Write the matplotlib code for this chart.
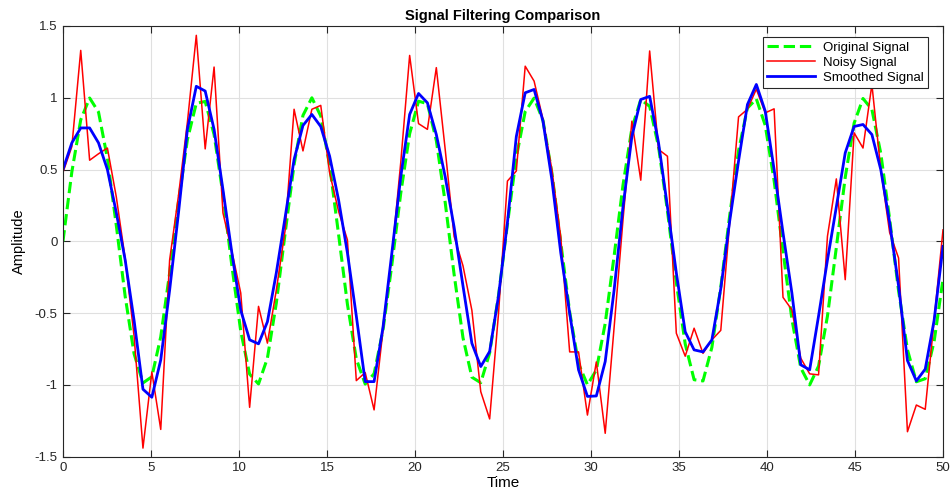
import numpy as np
import matplotlib
matplotlib.use("Agg")
import matplotlib.pyplot as plt

plt.rcParams['font.family'] = ['Liberation Sans', 'DejaVu Sans']

# time samples (100 points from 0 to 50)
t = np.linspace(0, 50, 100)

original = [0.0, 0.4839, 0.8469, 0.9985, 0.9007, 0.5780, 0.1111, -0.3837, -0.7826, -0.9861,
            -0.9434, -0.6651, -0.2208, 0.2788, 0.7086, 0.9616, 0.9744, 0.7439, 0.3277, -0.1704,
            -0.6259, -0.9251, -0.9933, -0.8135, -0.4306, 0.0599, 0.5353, 0.8772, 1.0000, 0.8731,
            0.5282, 0.0514, -0.4382, -0.8185, -0.9943, -0.9219, -0.6193, -0.1620, 0.3357, 0.7496,
            0.9762, 0.9592, 0.7026, 0.2706, -0.2289, -0.6714, -0.9462, -0.9847, -0.7774, -0.3758,
            0.1195, 0.5850, 0.9044, 0.9979, 0.8424, 0.4764, -0.0085, -0.4913, -0.8514, -0.9989,
            -0.8970, -0.5711, -0.1026, 0.3915, 0.7878, 0.9875, 0.9406, 0.6587, 0.2125, -0.2869,
            -0.7146, -0.9638, -0.9724, -0.7382, -0.3197, 0.1787, 0.6325, 0.9284, 0.9923, 0.8086,
            0.4230, -0.0684, -0.5425, -0.8813, -0.9999, -0.8689, -0.5210, -0.0429, 0.4458, 0.8233,
            0.9951, 0.9185, 0.6126, 0.1536, -0.3436, -0.7552, -0.9781, -0.9567, -0.6966, -0.2624]

noisy = [0.48, 0.66, 1.33, 0.565, 0.61, 0.65, 0.31, -0.12, -0.66, -1.44,
         -0.91, -1.31, -0.13, 0.32, 0.83, 1.435, 0.644, 1.214, 0.198, -0.07,
         -0.36, -1.156, -0.453, -0.709, -0.34, 0.08, 0.92, 0.63, 0.92, 0.947,
         0.477, 0.21, 0.01, -0.97, -0.914, -1.174, -0.62, -0.1, 0.55, 1.295,
         0.82, 0.78, 1.21, 0.64, 0.035, -0.17, -0.48, -1.047, -1.237, -0.5,
         0.42, 0.49, 1.22, 1.116, 0.85, 0.5, 0.03, -0.77, -0.77, -1.21,
         -0.84, -1.337, -0.6, 0.15, 0.837, 0.426, 1.326, 0.64, 0.593, -0.64,
         -0.80, -0.605, -0.78, -0.686, -0.62, 0.13, 0.867, 0.92, 1.06, 0.895,
         0.923, -0.39, -0.477, -0.814, -0.923, -0.93, 0.035, 0.435, -0.267, 0.756,
         0.65, 1.093, 0.5, 0.06, -0.116, -1.326, -1.14, -1.17, -0.55, 0.08]

smoothed = [0.5, 0.686, 0.79, 0.79, 0.686, 0.5, 0.2, -0.13, -0.55, -1.03,
            -1.086, -0.826, -0.34, 0.2, 0.78, 1.08, 1.047, 0.78, 0.36, -0.08,
            -0.48, -0.686, -0.714, -0.56, -0.22, 0.17, 0.57, 0.807, 0.884, 0.80,
            0.593, 0.29, -0.08, -0.52, -0.977, -0.977, -0.6, -0.08, 0.45, 0.884,
            1.03, 0.965, 0.744, 0.45, 0.10, -0.31, -0.71, -0.872, -0.767, -0.38,
            0.13, 0.73, 1.035, 1.058, 0.837, 0.43, -0.08, -0.5, -0.895, -1.08,
            -1.077, -0.837, -0.34, 0.24, 0.73, 0.988, 1.01, 0.686, 0.24, -0.22,
            -0.63, -0.756, -0.77, -0.686, -0.33, 0.14, 0.56, 0.953, 1.093, 0.907,
            0.5, 0.06, -0.36, -0.86, -0.895, -0.52, -0.13, 0.24, 0.616, 0.80,
            0.814, 0.744, 0.5, 0.13, -0.31, -0.83, -0.972, -0.89, -0.55, -0.035]

xticks = [0, 5, 10, 15, 20, 25, 30, 35, 40, 45, 50]
yticks = [-1.5, -1, -0.5, 0, 0.5, 1, 1.5]
yticklabels = ['-1.5', '-1', '-0.5', '0', '0.5', '1', '1.5']

fig = plt.figure(figsize=(9.51, 5.0), dpi=100)
ax = fig.add_axes([0.0662, 0.0866, 0.9254, 0.8614])

ax.plot(t, original, '--', color=(0, 1, 0), lw=2.2, label='Original Signal')
ax.plot(t, noisy, '-', color=(1, 0, 0), lw=1.1, label='Noisy Signal')
ax.plot(t, smoothed, '-', color=(0, 0, 1), lw=2.0, label='Smoothed Signal')

ax.set_xlim(0, 50)
ax.set_ylim(-1.5, 1.5)
ax.set_xticks(xticks)
ax.set_xticklabels([str(v) for v in xticks])
ax.set_yticks(yticks)
ax.set_yticklabels(yticklabels)
ax.tick_params(direction='in', top=True, right=True, length=5, width=0.8,
               labelsize=9.5, colors='#262626', pad=4)
ax.grid(True, color='#e0e0e0', lw=0.8)
ax.set_axisbelow(True)
for s in ax.spines.values():
    s.set_color('#262626')
    s.set_linewidth(0.8)

ax.set_title('Signal Filtering Comparison', fontsize=10.5, fontweight='bold', pad=4)
ax.set_xlabel('Time', fontsize=11, labelpad=1)
ax.set_ylabel('Amplitude', fontsize=10.5, labelpad=6)

leg = ax.legend(loc='upper right', bbox_to_anchor=(0.983, 0.9745), borderaxespad=0,
                fontsize=9.5, fancybox=False, framealpha=1, edgecolor='#262626',
                handlelength=3.6, borderpad=0.35, labelspacing=0.2, handletextpad=0.6)
leg.get_frame().set_linewidth(0.8)

fig.savefig('out.png', dpi=100)
